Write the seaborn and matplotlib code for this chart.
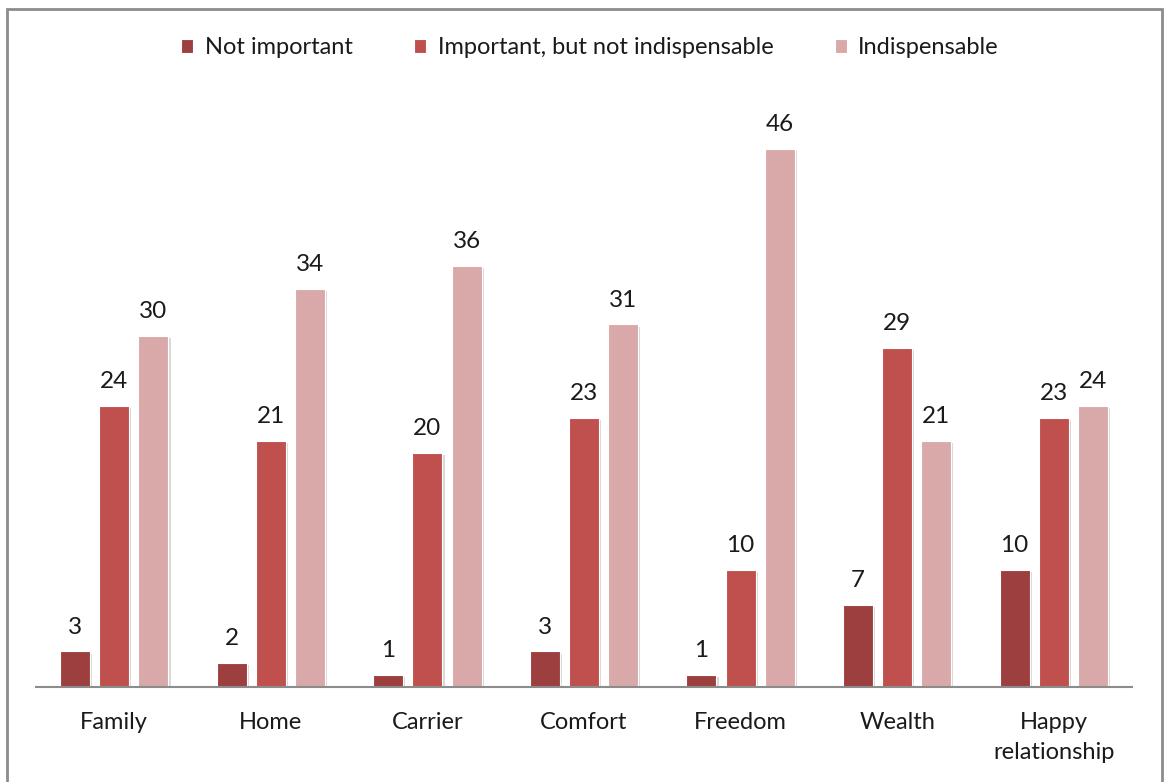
import matplotlib
matplotlib.use("Agg")
import matplotlib.pyplot as plt
import matplotlib.patheffects as pe
from matplotlib.patches import Rectangle
import seaborn as sns
import pandas as pd

categories = ["Family", "Home", "Carrier", "Comfort", "Freedom", "Wealth", "Happy\nrelationship"]
series_names = ["Not important", "Important, but not indispensable", "Indispensable"]
not_important = [3, 2, 1, 3, 1, 7, 10]
important = [24, 21, 20, 23, 10, 29, 23]
indispensable = [30, 34, 36, 31, 46, 21, 24]
colors = ["#9E3F3F", "#C0504D", "#D9A9A9"]

rows = []
for name, vals in zip(series_names, [not_important, important, indispensable]):
    for cat, v in zip(categories, vals):
        rows.append({"category": cat, "series": name, "value": v})
df = pd.DataFrame(rows)

sns.set_theme(style="white")
plt.rcParams["font.family"] = ["Lato", "DejaVu Sans"]

W, H = 1164, 782
fig = plt.figure(figsize=(W / 100, H / 100), dpi=100)
ax = fig.add_axes([36 / W, (H - 686.5) / H, (1132 - 36) / W, (686.5 - 102.5) / H])

sns.barplot(data=df, x="category", y="value", hue="series", hue_order=series_names,
            order=categories, palette=colors, width=0.75, gap=0.23,
            errorbar=None, saturation=1, ax=ax, edgecolor="white", linewidth=0.8)

shadow = [pe.SimplePatchShadow(offset=(1.5, -1.5), shadow_rgbFace="#7f7f7f", alpha=0.3), pe.Normal()]
for cont in ax.containers:
    for bar in cont:
        bar.set_path_effects(shadow)
    ax.bar_label(cont, fmt="%d", padding=10, fontsize=17.5, color="#1a1a1a")

ax.set_ylim(0, 50)
ax.set_xlim(-0.5, len(categories) - 0.5)
ax.set_xlabel("")
ax.set_ylabel("")
ax.set_yticks([])
ax.tick_params(axis="x", length=0, pad=18.5, labelsize=17, labelcolor="#1a1a1a")
for lbl in ax.get_xticklabels():
    lbl.set_linespacing(1.5)
for side in ["top", "left", "right"]:
    ax.spines[side].set_visible(False)
ax.spines["bottom"].set_color("#8c8c8c")
ax.spines["bottom"].set_linewidth(1.5)

handles, labels = ax.get_legend_handles_labels()
ax.get_legend().remove()
fig.legend(handles, labels, loc="center", bbox_to_anchor=(590 / W, 1 - 48 / H), ncol=3,
           frameon=False, fontsize=17, handlelength=0.5, handleheight=0.5,
           handletextpad=0.5, columnspacing=2.6, labelcolor="#1a1a1a")

fig.patches.append(Rectangle((6.5 / W, -0.05), (1162 - 6.5) / W, 1.05 - 8.5 / H,
                             transform=fig.transFigure, fill=False,
                             edgecolor="#8c8c8c", linewidth=2))

fig.savefig("out.png", dpi=100)
